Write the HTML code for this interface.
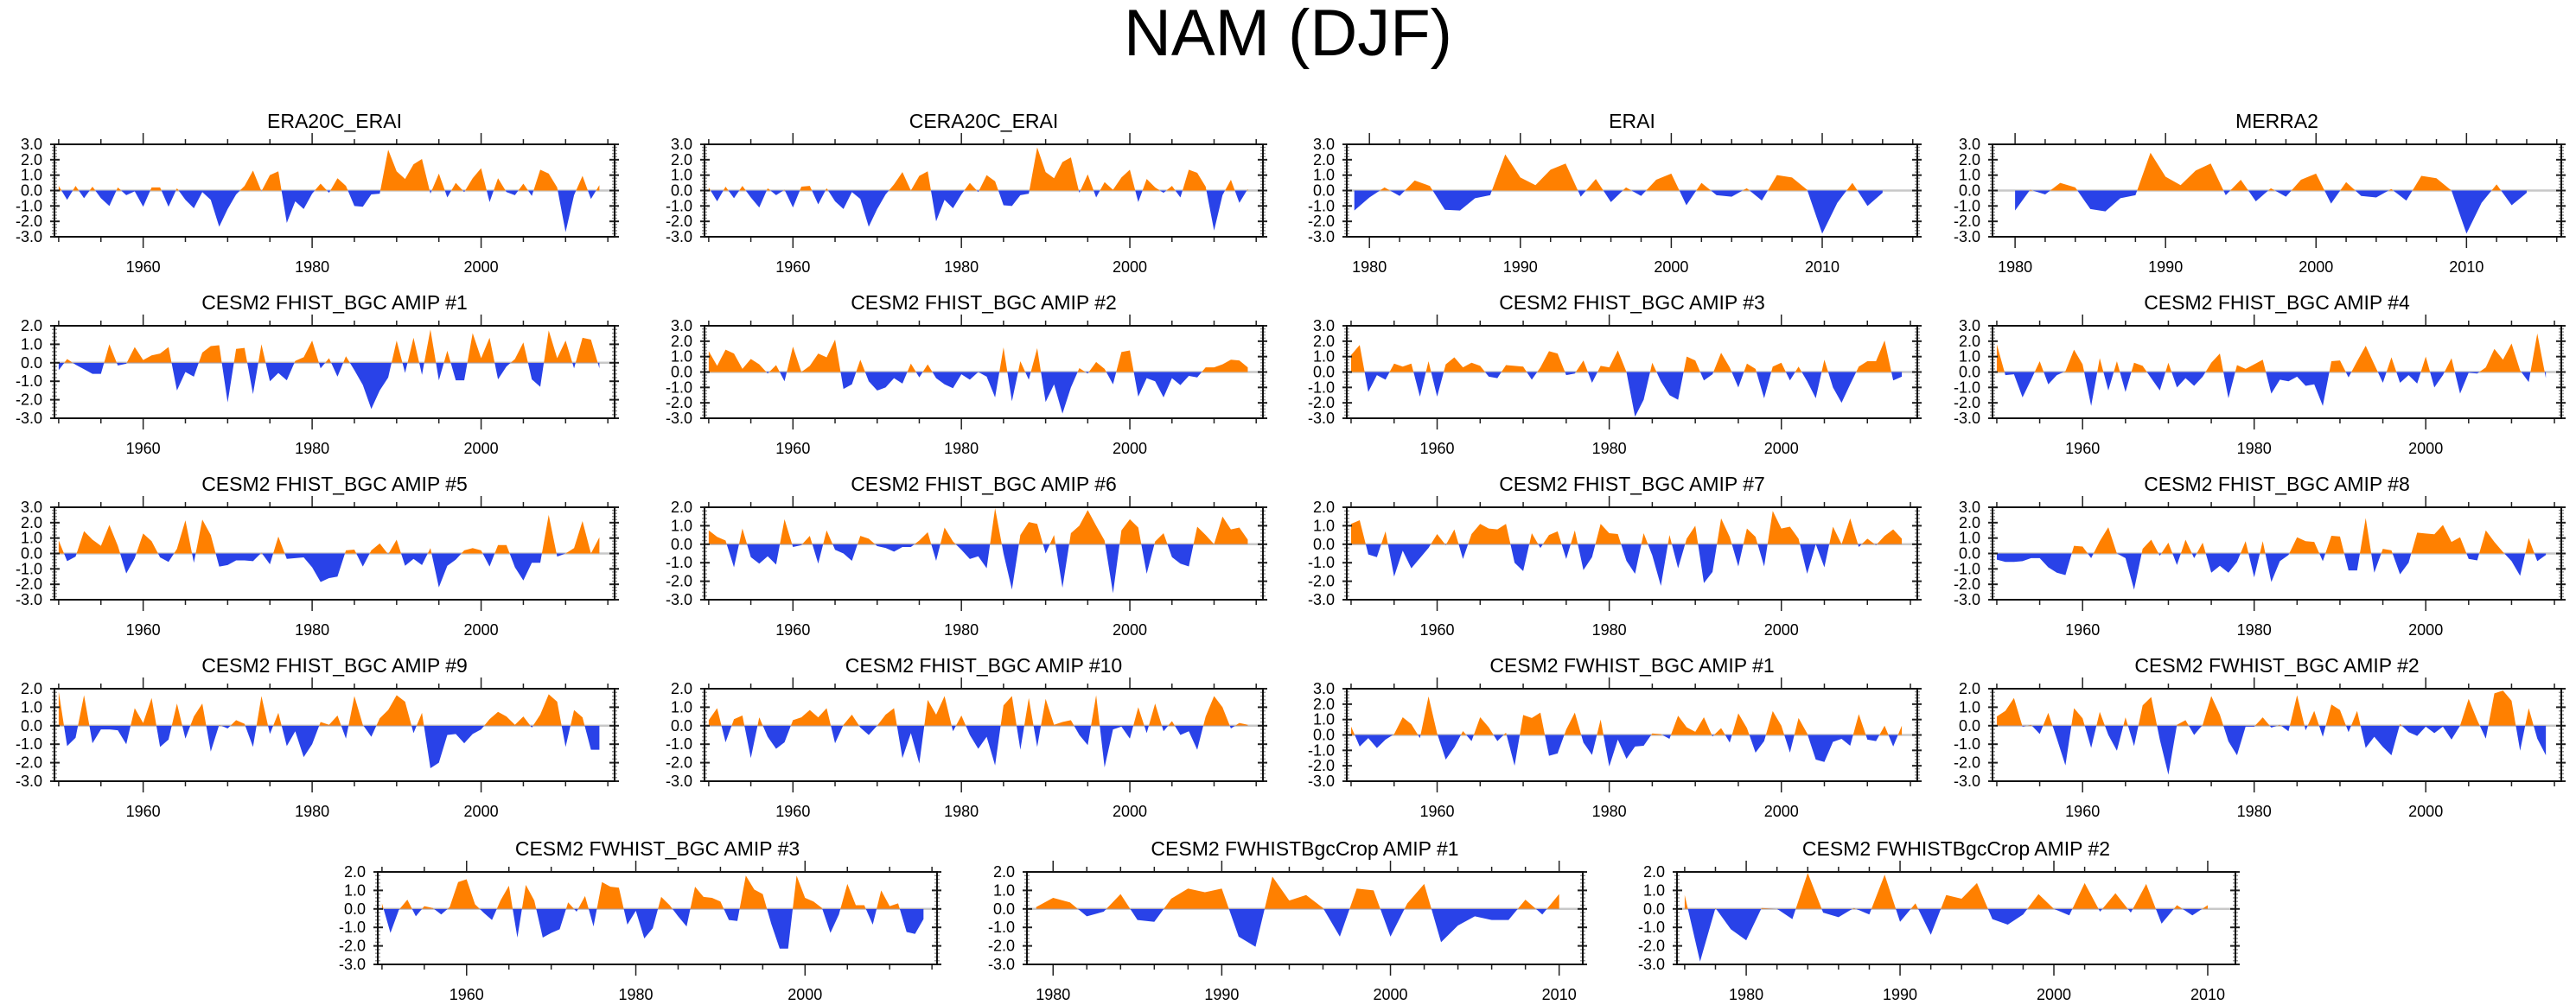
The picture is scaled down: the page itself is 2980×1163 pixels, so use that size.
<!DOCTYPE html>
<html>
<head>
<meta charset="utf-8">
<style>
html,body{margin:0;padding:0;background:#fff;}
svg{display:block;}
text{font-family:"Liberation Sans",Arial,sans-serif;fill:#000;}
</style>
</head>
<body>
<svg id="fig" xmlns="http://www.w3.org/2000/svg" width="2980" height="1163" viewBox="0 0 2980 1163">
<rect x="0" y="0" width="2980" height="1163" fill="#fff"/>
<text x="1490" y="64" font-size="76" text-anchor="middle">NAM (DJF)</text>
</svg>
<script>
// ---- data (NAM index, DJF) ----
const titles = ["ERA20C_ERAI","CERA20C_ERAI","ERAI","MERRA2",
"CESM2 FHIST_BGC AMIP #1","CESM2 FHIST_BGC AMIP #2","CESM2 FHIST_BGC AMIP #3","CESM2 FHIST_BGC AMIP #4",
"CESM2 FHIST_BGC AMIP #5","CESM2 FHIST_BGC AMIP #6","CESM2 FHIST_BGC AMIP #7","CESM2 FHIST_BGC AMIP #8",
"CESM2 FHIST_BGC AMIP #9","CESM2 FHIST_BGC AMIP #10","CESM2 FWHIST_BGC AMIP #1","CESM2 FWHIST_BGC AMIP #2",
"CESM2 FWHIST_BGC AMIP #3","CESM2 FWHISTBgcCrop AMIP #1","CESM2 FWHISTBgcCrop AMIP #2"];
const startYears = [1950,1950,1979,1980, 1950,1950,1950,1950, 1950,1950,1950,1950, 1950,1950,1950,1950, 1950,1979,1976];
const yMaxes = [3,3,3,3, 2,3,3,3, 3,2,2,3, 2,2,3,2, 2,2,2];
const yMin = -3;

const valsERA20C = [0.3,-0.6,0.3,-0.5,0.25,-0.5,-1.0,0.2,-0.3,-0.05,-1.05,0.2,0.2,-1.05,0.15,-0.6,-1.15,-0.1,-0.6,-2.35,-1.2,-0.25,0.3,1.3,-0.05,1.0,1.25,-2.1,-0.7,-1.2,-0.2,0.45,-0.15,0.8,0.3,-1.0,-1.05,-0.25,-0.2,2.65,1.25,0.75,1.7,2.05,-0.2,1.1,-0.45,0.5,-0.1,0.8,1.45,-0.75,0.8,-0.1,-0.3,0.45,-0.35,1.35,1.1,0.2,-2.7,-0.3,0.95,-0.55,0.35];
const valsCERA20C = [0.2,-0.7,0.25,-0.5,0.3,-0.45,-1.1,0.15,-0.3,0.05,-1.1,0.25,0.3,-0.9,0.15,-0.7,-1.2,-0.1,-0.55,-2.35,-1.2,-0.25,0.4,1.2,0.0,0.95,1.25,-2.0,-0.6,-1.15,-0.25,0.5,-0.1,1.0,0.6,-0.95,-1.0,-0.3,-0.2,2.8,1.2,0.8,1.85,2.15,-0.15,1.05,-0.45,0.55,0.05,0.85,1.35,-0.75,0.75,0.2,-0.15,0.3,-0.45,1.35,1.15,0.25,-2.6,-0.3,0.7,-0.8,0.1];
const valsERAI = [-1.3,-0.45,0.2,-0.35,0.65,0.3,-1.25,-1.3,-0.5,-0.3,2.35,0.85,0.35,1.35,1.75,-0.4,0.75,-0.75,0.2,-0.35,0.7,1.1,-0.95,0.5,-0.3,-0.4,0.15,-0.65,1.0,0.85,0.05,-2.8,-0.8,0.5,-1.0,-0.15];
const valsMERRA2 = [-1.3,0.05,-0.25,0.5,0.2,-1.2,-1.35,-0.5,-0.3,2.45,0.9,0.35,1.3,1.75,-0.3,0.7,-0.7,0.15,-0.4,0.7,1.1,-0.85,0.55,-0.35,-0.45,0.1,-0.65,0.95,0.8,0.0,-2.8,-0.8,0.4,-0.95,-0.15];
const valsFH1 = [-0.4,0.2,-0.1,-0.35,-0.6,-0.6,1.0,-0.15,-0.05,0.85,0.15,0.4,0.5,0.85,-1.5,-0.5,-0.75,0.55,0.9,0.95,-2.15,0.75,0.8,-1.7,1.0,-1.0,-0.55,-0.95,0.1,0.3,1.2,-0.3,0.25,-0.75,0.35,-0.4,-1.2,-2.5,-1.5,-0.8,1.2,-0.55,1.35,-0.65,1.8,-0.95,0.65,-0.95,-0.95,1.6,0.25,1.35,-0.9,-0.2,0.2,1.1,-0.9,-1.3,1.75,0.25,1.2,-0.3,1.35,1.25,-0.3];
const valsFH2 = [1.35,0.4,1.45,1.2,0.2,0.85,0.5,-0.1,0.45,-0.6,1.65,0.0,0.4,1.2,0.95,2.1,-1.1,-0.8,0.8,-0.6,-1.2,-1.0,-0.4,-0.75,0.55,-0.35,0.5,-0.4,-0.8,-1.05,-0.15,-0.5,0.0,-0.3,-1.65,1.6,-1.9,0.7,-0.5,1.55,-1.95,-0.8,-2.7,-1.0,0.25,-0.1,0.65,0.2,-0.8,1.3,1.4,-1.6,-0.4,-0.6,-1.65,-0.4,-0.85,-0.25,-0.35,0.3,0.3,0.5,0.8,0.75,0.3];
const valsFH3 = [1.1,1.75,-1.3,-0.2,-0.5,0.55,0.35,0.55,-1.6,0.7,-1.6,0.5,0.95,0.3,0.6,0.4,-0.3,-0.4,0.45,0.4,0.35,-0.5,0.3,1.35,1.2,-0.2,-0.1,0.75,-0.7,0.4,0.3,1.4,0.0,-2.9,-1.8,0.6,-0.6,-1.5,-1.8,1.0,0.75,-0.55,-0.15,1.25,0.3,-1.0,0.55,0.2,-1.7,0.35,0.6,-0.55,0.35,-0.6,-1.7,0.8,-1.0,-2.0,-0.8,0.35,0.7,0.7,2.05,-0.55,-0.3];
const valsFH4 = [1.8,-0.2,-0.15,-1.65,-0.5,0.7,-0.8,-0.2,0.05,1.45,0.5,-2.2,0.9,-1.2,0.7,-1.3,0.6,0.4,-0.4,-1.2,0.6,-1.0,-0.4,-0.9,-0.3,0.6,1.2,-1.7,0.45,0.2,0.5,0.8,-1.4,-0.5,-0.6,-0.3,-0.9,-0.8,-2.2,0.7,0.75,-0.35,0.7,1.7,0.5,-0.7,0.95,-0.7,-0.2,-0.75,1.0,-1.0,-0.2,0.9,-1.4,-0.05,-0.1,0.3,1.5,0.8,1.85,0.1,-0.65,2.5,-0.4];
const valsFH5 = [0.85,-0.5,-0.2,1.45,0.9,0.5,1.85,0.5,-1.3,-0.3,1.3,0.8,-0.25,-0.55,0.3,2.15,-0.6,2.2,1.2,-0.85,-0.75,-0.45,-0.45,-0.5,0.05,-0.7,1.1,-0.35,-0.3,-0.25,-0.9,-1.85,-1.6,-1.5,0.2,0.25,-0.85,0.2,0.65,-0.05,0.9,-0.8,-0.35,-0.75,0.35,-2.2,-0.8,-0.4,0.2,0.35,0.2,-0.85,0.55,0.55,-0.9,-1.75,-0.6,-0.6,2.5,-0.2,0.0,0.35,2.1,0.0,1.05];
const valsFH6 = [0.75,0.4,0.2,-1.25,0.85,-0.7,-1.05,-0.65,-1.1,1.35,-0.15,-0.05,0.45,-1.05,0.75,-0.3,-0.5,-0.9,0.45,0.3,-0.1,-0.2,-0.4,-0.15,-0.15,0.2,0.65,-0.9,0.9,0.15,-0.3,-0.8,-0.65,-1.3,1.95,-0.5,-2.45,0.5,1.2,1.1,-0.5,0.5,-2.35,0.6,1.0,1.85,1.0,0.2,-2.65,0.75,1.35,0.9,-1.6,0.15,0.6,-0.7,-1.05,-1.2,0.95,0.5,0.0,1.5,0.8,0.9,0.25];
const valsFH7 = [1.1,1.3,-0.55,-0.7,0.7,-1.75,-0.35,-1.3,-0.75,-0.2,0.55,-0.05,0.8,-0.8,0.55,1.1,0.85,0.8,1.1,-1.0,-1.45,0.6,-0.2,0.5,0.7,-0.8,0.75,-1.4,-0.7,1.1,0.6,0.55,-0.9,-1.6,0.6,-0.6,-2.25,0.5,-1.3,0.3,1.0,-2.1,-1.5,1.4,0.4,-1.2,0.85,0.4,-1.2,1.8,0.85,0.95,0.3,-1.6,0.0,-1.25,0.95,0.0,1.4,-0.15,0.3,-0.05,0.45,0.8,0.3];
const valsFH8 = [-0.4,-0.55,-0.55,-0.5,-0.3,-0.3,-0.9,-1.25,-1.4,0.5,0.45,-0.3,0.8,1.7,0.0,-0.3,-2.35,0.3,0.9,-0.15,0.7,-0.75,0.9,-0.3,0.7,-1.25,-0.8,-1.25,-0.55,0.8,-1.55,0.8,-1.85,-0.5,-0.1,1.05,0.8,0.75,-0.5,1.15,1.1,-1.1,-1.1,2.3,-1.25,0.3,0.2,-1.35,-0.6,1.35,1.3,1.25,1.85,0.75,1.05,-0.35,-0.45,1.5,0.75,0.1,-0.5,-1.45,1.0,-0.5,-0.1];
const valsFH9 = [1.85,-1.1,-0.65,1.65,-0.95,-0.2,-0.2,-0.25,-1.0,0.95,0.15,1.5,-1.15,-0.75,1.2,-0.7,0.5,1.2,-1.4,0.05,-0.15,0.3,0.1,-1.15,1.6,-0.45,0.7,-1.1,-0.3,-1.7,-1.0,0.2,0.05,0.55,-0.7,1.6,0.05,-0.6,0.4,0.85,1.65,1.3,-0.4,0.7,-2.3,-2.0,-0.5,-0.45,-0.95,-0.45,-0.2,0.35,0.75,0.5,0.05,0.5,-0.1,0.6,1.7,1.3,-1.15,0.85,0.45,-1.3,-1.3];
const valsFH10 = [0.3,0.95,-0.9,0.35,0.55,-1.75,0.45,-0.6,-1.25,-0.9,0.3,0.45,0.85,0.45,0.95,-0.95,0.05,0.6,-0.1,-0.5,0.0,0.6,0.95,-1.75,-0.4,-2.05,1.4,0.6,1.6,-0.3,0.55,-0.5,-1.25,-0.6,-2.15,1.1,1.6,-1.3,1.5,-1.15,1.45,0.05,0.2,0.3,-0.5,-1.05,1.65,-2.25,-0.2,-0.05,-0.7,1.0,-0.4,1.2,-0.3,0.25,-0.5,-0.3,-1.3,0.5,1.6,1.0,-0.15,0.15,0.05];
const valsFW1 = [0.55,-0.75,-0.2,-0.85,-0.3,0.05,1.15,0.7,-0.2,2.5,0.1,-1.6,-0.8,0.25,-0.4,1.15,0.5,-0.4,0.15,-2.0,1.3,1.1,1.45,-1.35,-1.2,0.35,1.45,-0.5,-1.3,1.0,-2.05,-0.3,-1.55,-0.75,-0.7,0.1,0.05,-0.25,1.25,0.5,0.2,1.15,-0.1,0.45,-0.5,1.4,0.45,-1.15,-0.4,1.55,0.6,-1.15,1.1,0.1,-1.6,-1.75,-0.45,-0.25,-0.7,1.35,-0.3,-0.4,0.6,-0.75,0.6];
const valsFW2 = [0.5,0.8,1.5,-0.05,0.05,-0.45,0.7,-0.7,-2.15,0.95,0.4,-1.2,0.75,-0.5,-1.35,0.45,-1.1,1.1,1.55,-0.75,-2.65,0.05,0.3,-0.5,0.05,1.6,0.6,-0.85,-1.6,-0.05,-0.05,0.45,-0.1,0.05,-0.3,1.65,-0.25,0.8,-0.6,1.15,0.85,-0.35,0.8,-1.2,-0.6,-1.15,-1.6,0.1,-0.35,-0.55,-0.05,-0.4,-0.05,-0.75,0.0,1.45,0.3,-0.7,1.75,1.9,1.35,-1.35,0.95,-0.7,-1.6];
const valsFW3 = [0.3,-1.3,-0.05,0.5,-0.4,0.15,0.05,-0.3,0.1,1.45,1.6,0.25,-0.2,-0.6,0.45,1.25,-1.55,1.3,0.45,-1.55,-1.3,-1.1,0.35,-0.15,0.7,-0.95,1.45,1.2,1.15,-0.85,-0.1,-1.6,-1.05,0.65,0.2,-0.4,-0.95,1.2,0.65,0.6,0.4,-0.6,-0.65,1.8,1.05,0.8,-0.8,-2.15,-2.15,1.8,0.6,0.4,0.05,-1.3,-0.3,1.35,0.2,0.2,-0.85,1.0,0.15,0.3,-1.25,-1.35,-0.55];
const valsCrop1 = [0.1,0.6,0.35,-0.4,-0.15,0.8,-0.6,-0.7,0.55,1.1,0.9,1.1,-1.5,-2.05,1.75,0.45,0.75,0.05,-1.5,1.1,1.0,-1.5,0.3,1.35,-1.8,-0.9,-0.4,-0.6,-0.6,0.5,-0.3,0.8];
const valsCrop2 = [0.75,-2.85,0.05,-1.1,-1.7,0.05,0.0,-0.55,1.95,-0.2,-0.45,0.05,-0.3,1.85,-0.7,0.3,-1.4,0.75,0.55,1.4,-0.55,-0.85,-0.3,0.8,0.0,-0.35,1.4,-0.15,0.85,-0.2,1.35,-0.8,0.2,-0.35,0.2];
const allVals = [valsERA20C,valsCERA20C,valsERAI,valsMERRA2,valsFH1,valsFH2,valsFH3,valsFH4,valsFH5,valsFH6,valsFH7,valsFH8,valsFH9,valsFH10,valsFW1,valsFW2,valsFW3,valsCrop1,valsCrop2];
const xRanges = [[1949.5,2015.8],[1949.5,2015.8],[1978.5,2016.3],[1978.5,2016.3],
[1949.5,2015.8],[1949.5,2015.8],[1949.5,2015.8],[1949.5,2015.8],
[1949.5,2015.8],[1949.5,2015.8],[1949.5,2015.8],[1949.5,2015.8],
[1949.5,2015.8],[1949.5,2015.8],[1949.5,2015.8],[1949.5,2015.8],
[1949.5,2015.6],[1978.45,2011.4],[1975.5,2011.8]];

// ---- layout (pixel geometry, not data) ----
const colL = [63,815,1558,2305];
const colW = [648,646,660,658];
const rowT = [167,377,587,797];
const PH = 107;
const row5L = [437,1188,1940];
const row5W = [647,643,646];
const row5T = 1009;

const NS = "http://www.w3.org/2000/svg";
const svg = document.getElementById("fig");
function mk(tag, attrs, parent){
  const e = document.createElementNS(NS, tag);
  for (const k in attrs) e.setAttribute(k, attrs[k]);
  (parent||svg).appendChild(e);
  return e;
}

function drawPanel(i, L, T, W){
  const vals = allVals[i];
  const y0 = startYears[i];
  const yMax = yMaxes[i];
  const [xmin, xmax] = xRanges[i];
  const B = T + PH, R = L + W;
  const xs = yr => L + (yr - xmin) / (xmax - xmin) * W;
  const ys = v => B - (v - yMin) / (yMax - yMin) * PH;

  const g = mk("g", {});
  
  

  const t = mk("text", {x: L + W/2, y: T - 19, "font-size": 23, "text-anchor": "middle"}, g);
  t.textContent = titles[i];
  
  

  const zy = ys(0);
  const zl = mk("line", {x1: L, x2: R, y1: zy, y2: zy, stroke: "#c8c8c8", "stroke-width": 2.5}, g);
  
  

  // area polygon
  let d = "M" + xs(y0) + "," + zy;
  vals.forEach((v, k) => { d += " L" + xs(y0 + k).toFixed(2) + "," + ys(v).toFixed(2); });
  d += " L" + xs(y0 + vals.length - 1) + "," + zy + " Z";
  const cidA = "ca" + i, cidB = "cb" + i;
  const defs = mk("defs", {}, g);
  const cpA = mk("clipPath", {id: cidA}, defs);
  mk("rect", {x: L, y: T, width: W, height: zy - T}, cpA);
  const cpB = mk("clipPath", {id: cidB}, defs);
  mk("rect", {x: L, y: zy, width: W, height: B - zy}, cpB);
  const pa = mk("path", {d: d, fill: "#ff8000", "clip-path": "url(#" + cidA + ")"}, g);
  
  
  const pb = mk("path", {d: d, fill: "#2942e8", "clip-path": "url(#" + cidB + ")"}, g);
  
  

  // y ticks
  for (let v = yMin; v <= yMax + 1e-9; v += 0.2) {
    const vv = Math.round(v * 10) / 10;
    const yy = ys(vv);
    const major = Math.abs(vv - Math.round(vv)) < 1e-6;
    if (major) {
      mk("line", {x1: L - 5, x2: L + 6, y1: yy, y2: yy, stroke: "#222", "stroke-width": 2}, g);
      mk("line", {x1: R - 6, x2: R + 5, y1: yy, y2: yy, stroke: "#222", "stroke-width": 2}, g);
      const lb = mk("text", {x: L - 14, y: yy + 6, "font-size": 18, "text-anchor": "end"}, g);
      lb.textContent = vv.toFixed(1);
      
      
    } else {
      mk("line", {x1: L - 3, x2: L + 3, y1: yy, y2: yy, stroke: "#999", "stroke-width": 1.5}, g);
      mk("line", {x1: R - 3, x2: R + 3, y1: yy, y2: yy, stroke: "#999", "stroke-width": 1.5}, g);
    }
  }
  // x ticks
  const span = xmax - xmin;
  const majorStep = span > 45 ? 20 : 10;
  const minorStep = span > 45 ? 5 : 2;
  for (let yr = Math.ceil(xmin / minorStep) * minorStep; yr <= xmax; yr += minorStep) {
    const xx = xs(yr);
    const major = yr % majorStep === 0;
    const len = major ? 13 : 6;
    mk("line", {x1: xx, x2: xx, y1: T - len, y2: T, stroke: "#222", "stroke-width": 1.5}, g);
    mk("line", {x1: xx, x2: xx, y1: B, y2: B + len, stroke: "#222", "stroke-width": 1.5}, g);
    if (major) {
      const lb = mk("text", {x: xx, y: B + 41, "font-size": 18, "text-anchor": "middle"}, g);
      lb.textContent = String(yr);
      
      
    }
  }
  const fr = mk("rect", {x: L, y: T, width: W, height: PH, fill: "none", stroke: "#111", "stroke-width": 2}, g);
  
  
}

for (let r = 0; r < 4; r++) {
  for (let c = 0; c < 4; c++) {
    drawPanel(r * 4 + c, colL[c], rowT[r], colW[c]);
  }
}
for (let c = 0; c < 3; c++) {
  drawPanel(16 + c, row5L[c], row5T, row5W[c]);
}
</script>
</body>
</html>
